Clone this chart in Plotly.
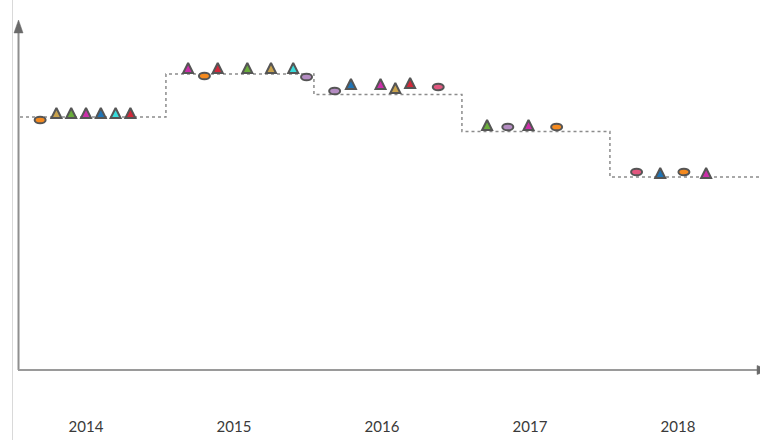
import plotly.graph_objects as go

# ---------------- data ----------------
years = [2014, 2015, 2016, 2017, 2018]
year_labels = ["2014", "2015", "2016", "2017", "2018"]

# stepped level line (period start positions and level values)
step_x = [2013.554, 2014.54, 2015.54, 2016.54, 2017.54, 2018.56]
step_y = [2.53, 2.96, 2.755, 2.385, 1.93, 1.93]

# triangle points
tri_x = [2013.80, 2013.90, 2014.00, 2014.10, 2014.20, 2014.30,
         2014.69, 2014.89, 2015.09, 2015.25, 2015.40,
         2015.79, 2015.99, 2016.09, 2016.19,
         2016.71, 2016.99,
         2017.88, 2018.19]
tri_y = [2.62, 2.62, 2.62, 2.62, 2.62, 2.62,
         3.07, 3.07, 3.07, 3.07, 3.07,
         2.91, 2.91, 2.87, 2.92,
         2.50, 2.50,
         2.02, 2.02]
tri_cat = ["tan", "green", "magenta", "blue", "cyan", "red",
           "magenta", "red", "green", "tan", "cyan",
           "blue", "magenta", "tan", "red",
           "green", "magenta",
           "blue", "magenta"]

# ellipse points
ell_x = [2013.69, 2014.80, 2015.49, 2015.68, 2016.38, 2016.85, 2017.18, 2017.72, 2018.04]
ell_y = [2.50, 2.94, 2.93, 2.79, 2.83, 2.43, 2.43, 1.98, 1.98]
ell_cat = ["orange", "orange", "lavender", "lavender", "pink", "lavender", "orange", "pink", "orange"]

palette = {
    "orange": "#f58a1f",
    "tan": "#c9a24c",
    "green": "#6aad3c",
    "magenta": "#cc2eaa",
    "blue": "#1f74b6",
    "cyan": "#38dcdc",
    "red": "#d3283a",
    "lavender": "#b48cc2",
    "pink": "#e2577f",
}
outline = "#555555"

# ---------------- figure ----------------
fig = go.Figure()

fig.add_trace(go.Scatter(
    x=step_x, y=step_y, mode="lines", line_shape="hv",
    line=dict(color="#8c8c8c", width=1.5, dash="dot"),
    hoverinfo="skip", showlegend=False,
))

fig.add_trace(go.Scatter(
    x=tri_x, y=tri_y, mode="markers",
    marker=dict(symbol="arrow-up", size=10,
                color=[palette[c] for c in tri_cat],
                line=dict(color=outline, width=2)),
    cliponaxis=False, showlegend=False,
))

shapes = []
for x, y, c in zip(ell_x, ell_y, ell_cat):
    shapes.append(dict(
        type="circle", xref="x", yref="y",
        xsizemode="pixel", ysizemode="pixel",
        xanchor=x, yanchor=y,
        x0=-5.5, x1=5.5, y0=-3.3, y1=3.3,
        fillcolor=palette[c], line=dict(color=outline, width=2),
        layer="above",
    ))

# light vertical rule at far left
shapes.append(dict(type="line", xref="paper", yref="paper",
                   x0=-0.0074, x1=-0.0074, y0=-0.25, y1=1.06,
                   line=dict(color="#d9d9d9", width=1)))
# y axis shaft + arrowhead
shapes.append(dict(type="line", xref="paper", yref="paper",
                   x0=0.0007, x1=0.0007, y0=0, y1=0.965,
                   line=dict(color="#8f8f8f", width=2)))
shapes.append(dict(type="path", xref="paper", yref="paper",
                   path="M -0.0054,0.963 L 0.0007,1.0 L 0.0068,0.963 Z",
                   fillcolor="#6a6a6a", line=dict(color="#6a6a6a", width=0.5)))
# x axis line + arrowhead
shapes.append(dict(type="line", xref="paper", yref="paper",
                   x0=0.0, x1=1.0, y0=0, y1=0,
                   line=dict(color="#9a9a9a", width=2)))
shapes.append(dict(type="path", xref="paper", yref="paper",
                   path="M 0.996,-0.0129 L 1.0135,0 L 0.996,0.0129 Z",
                   fillcolor="#6a6a6a", line=dict(color="#6a6a6a", width=0.5)))

fig.update_layout(
    width=760, height=440,
    margin=dict(l=18, r=0, t=20, b=70),
    paper_bgcolor="white", plot_bgcolor="white",
    template="none",
    shapes=shapes,
    showlegend=False,
    xaxis=dict(range=[2013.5405, 2018.554], tickvals=years, ticktext=year_labels,
               showgrid=False, zeroline=False, showline=False, ticks="",
               ticklabelstandoff=46, automargin=False,
               tickfont=dict(family="Lato", size=15, color="#3a3a3a")),
    yaxis=dict(range=[0, 3.5], showgrid=False, zeroline=False, showline=False,
               showticklabels=False, ticks="", automargin=False),
)

fig.write_html(
    "out.html",
    config={"displayModeBar": False},
    post_script="document.body.style.margin='0';document.documentElement.style.overflow='hidden';",
)
